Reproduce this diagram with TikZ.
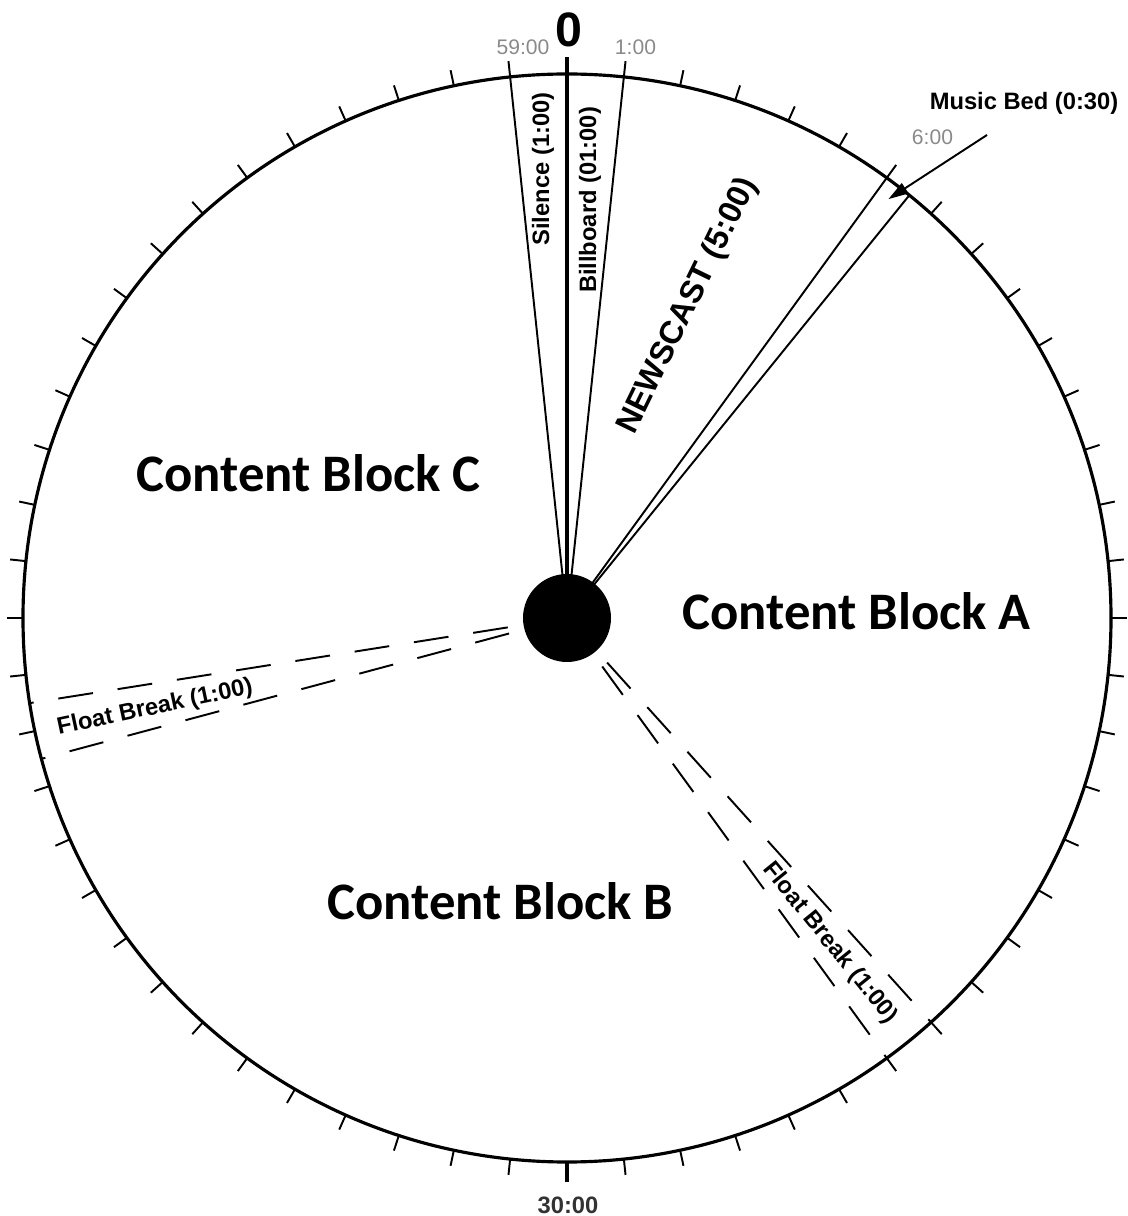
\documentclass[tikz,border=0pt]{standalone}
\usepackage{fontspec}
\setmainfont{Liberation Sans}
\newfontfamily\calibri{Carlito}
\usetikzlibrary{arrows.meta}
\definecolor{cgrisc}{HTML}{8A8A8A}
\definecolor{cosc}{HTML}{333333}
\tikzset{
  aro/.style={line width=1.8pt, draw=black},
  marca/.style={line width=1.1pt},
  radio/.style={line width=1.1pt},
  corte/.style={line width=1.1pt, dash pattern=on 7mm off 5mm},
  eje/.style={circle, fill=black, minimum size=17.6mm, inner sep=0pt},
  minuto/.style={font=\fontsize{12}{14}\selectfont, text=cgrisc, inner sep=0pt},
  etq/.style={font=\bfseries\fontsize{13.5}{16}\selectfont, inner sep=0pt},
  bloque/.style={font=\calibri\bfseries\fontsize{30}{36}\selectfont, inner sep=0pt, anchor=base west},
  flecha/.style={-{Triangle[length=4mm, width=2.4mm]}, line width=1.1pt},
}

\begin{document}
\begin{tikzpicture}[x=0.2mm, y=0.2mm]
  \useasboundingbox (-567,-598) rectangle (560,618);

  % dial and minute ticks
  \draw[aro] (0,0) circle (544);
  \foreach \m in {0,...,59}
    \coordinate (r\m) at ({90-6*\m}:544);
  \foreach \m in {1,...,29,31,32,...,59}
    \draw[marca] (r\m) -- ({90-6*\m}:560);
  \draw[line width=2pt] (r30) -- (-90:564);

  \coordinate (mid) at (0,0);
  \coordinate (rtop) at (90:561);
  \coordinate (rbed) at ({90-39}:544);
  \coordinate (rfa) at ({90-255}:544);
  \coordinate (rfb) at ({90-261}:544);

  % segments
  \draw[line width=2.3pt] (mid) -- (rtop);
  \draw[radio] (mid) -- (r59);
  \draw[radio] (mid) -- (r1);
  \draw[radio] (mid) -- (r6);
  \draw[radio] (mid) -- (rbed);
  \draw[corte] (mid) -- (r23);
  \draw[corte] (mid) -- (r24);
  \draw[corte] (mid) -- (rfa);
  \draw[corte] (mid) -- (rfb);
  \node[eje] (hub) at (mid) {};

  % music bed pointer
  \coordinate (bedcola) at (420,483);
  \coordinate (bedpunta) at ({90-37.5}:528);
  \draw[flecha] (bedcola) -- (bedpunta);

  % labels
  \node[font=\bfseries\fontsize{27.5}{30}\selectfont, inner sep=0pt] (t0) at (2,588) {0};
  \node[minuto] (t59) at (-44,571) {59:00};
  \node[minuto] (t1) at (68.5,571) {1:00};
  \node[minuto] (t6) at (365.5,481) {6:00};
  \node[etq, text=cosc] (t30) at (1,-587) {30:00};
  \node[etq] (bed) at (457,515) {Music Bed (0:30)};
  \node[etq, rotate=90] (sil) at (-24,449) {Silence (1:00)};
  \node[etq, rotate=90] (bill) at (23,418) {Billboard (01:00)};
  \node[etq, font=\bfseries\fontsize{18.4}{22}\selectfont, rotate=64] (news) at (121,312) {NEWSCAST (5:00)};
  \node[etq, rotate=12] (fba) at (-412,-90) {Float Break (1:00)};
  \node[etq, rotate=-51] (fbb) at (263,-325) {Float Break (1:00)};

  \node[bloque] (blqc) at (-431,126) {Content Block C};
  \node[bloque] (blqa) at (115,-12) {Content Block A};
  \node[bloque] (blqb) at (-240,-301) {Content Block B};
\end{tikzpicture}
\end{document}
